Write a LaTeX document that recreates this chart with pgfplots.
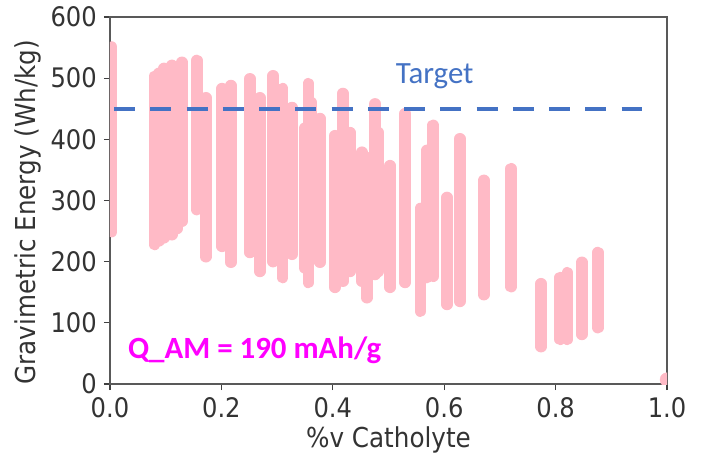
\documentclass[border=0pt]{standalone}
\usepackage{pgfplots}
\pgfplotsset{compat=1.18}
\usepackage{fontspec}
\setmainfont{DejaVu Sans}[FakeStretch=0.9]
\newfontfamily\calfont{Carlito}
\definecolor{barpink}{RGB}{255,186,198}
\definecolor{tblue}{RGB}{68,114,196}
\definecolor{mag}{RGB}{255,0,255}
\pgfplotsset{pinkbar/.style={draw=barpink, line width=11.5bp, line cap=round, forget plot}}
\begin{document}
\begin{tikzpicture}
\path[use as bounding box] (-110bp,-70bp) rectangle (596bp,384bp);
\begin{axis}[
  at={(0,0)}, anchor=south west,
  scale only axis, width=557bp, height=367bp,
  xmin=0, xmax=1, ymin=0, ymax=600,
  clip marker paths=true,
  xtick={0,0.2,0.4,0.6,0.8,1}, xticklabels={0.0,0.2,0.4,0.6,0.8,1.0},
  ytick={0,100,200,300,400,500,600},
  tick align=outside, xtick pos=bottom, ytick pos=left,
  major tick length=6bp,
  every tick/.style={black!75, line width=1.2bp},
  axis line style={black!65, line width=1.2bp},
  tick label style={font=\fontsize{27}{30}\selectfont, text=black!80, inner sep=0pt},
  /pgf/number format/assume math mode=true,
  xticklabel style={yshift=-7bp},
  yticklabel style={xshift=-7bp},
  xlabel={\%v Catholyte},
  ylabel={Gravimetric Energy (Wh/kg)},
  label style={font=\fontsize{27.5}{30}\selectfont, text=black!80},
  xlabel style={at={(axis description cs:0.5,0)}, anchor=base, yshift=-63bp, inner sep=0pt},
  ylabel style={at={(axis description cs:-0.147,0.468)}, anchor=center, inner sep=0pt},
]
\addplot[pinkbar] coordinates {(0.003,249) (0.003,551)};
\addplot[pinkbar] coordinates {(0.080,228) (0.080,503)};
\addplot[pinkbar] coordinates {(0.088,234) (0.088,508)};
\addplot[pinkbar] coordinates {(0.097,239) (0.097,516)};
\addplot[pinkbar] coordinates {(0.111,244) (0.111,521)};
\addplot[pinkbar] coordinates {(0.120,254) (0.120,519)};
\addplot[pinkbar] coordinates {(0.129,266) (0.129,526)};
\addplot[pinkbar] coordinates {(0.156,285) (0.156,529)};
\addplot[pinkbar] coordinates {(0.172,208) (0.172,468)};
\addplot[pinkbar] coordinates {(0.201,225) (0.201,483)};
\addplot[pinkbar] coordinates {(0.217,199) (0.217,488)};
\addplot[pinkbar] coordinates {(0.251,215) (0.251,499)};
\addplot[pinkbar] coordinates {(0.269,184) (0.269,468)};
\addplot[pinkbar] coordinates {(0.293,200) (0.293,504)};
\addplot[pinkbar] coordinates {(0.310,174) (0.310,483)};
\addplot[pinkbar] coordinates {(0.327,212) (0.327,452)};
\addplot[pinkbar] coordinates {(0.349,190) (0.349,418)};
\addplot[pinkbar] coordinates {(0.356,166) (0.356,491)};
\addplot[pinkbar] coordinates {(0.362,204) (0.362,460)};
\addplot[pinkbar] coordinates {(0.377,199) (0.377,434)};
\addplot[pinkbar] coordinates {(0.404,158) (0.404,406)};
\addplot[pinkbar] coordinates {(0.418,168) (0.418,475)};
\addplot[pinkbar] coordinates {(0.431,184) (0.431,411)};
\addplot[pinkbar] coordinates {(0.452,168) (0.452,379)};
\addplot[pinkbar] coordinates {(0.461,141) (0.461,370)};
\addplot[pinkbar] coordinates {(0.476,179) (0.476,458)};
\addplot[pinkbar] coordinates {(0.482,184) (0.482,411)};
\addplot[pinkbar] coordinates {(0.503,158) (0.503,357)};
\addplot[pinkbar] coordinates {(0.530,166) (0.530,442)};
\addplot[pinkbar] coordinates {(0.557,119) (0.557,287)};
\addplot[pinkbar] coordinates {(0.569,174) (0.569,382)};
\addplot[pinkbar] coordinates {(0.580,176) (0.580,423)};
\addplot[pinkbar] coordinates {(0.605,130) (0.605,305)};
\addplot[pinkbar] coordinates {(0.628,135) (0.628,401)};
\addplot[pinkbar] coordinates {(0.671,146) (0.671,333)};
\addplot[pinkbar] coordinates {(0.720,159) (0.720,352)};
\addplot[pinkbar] coordinates {(0.774,61) (0.774,164)};
\addplot[pinkbar] coordinates {(0.808,73) (0.808,174)};
\addplot[pinkbar] coordinates {(0.821,73) (0.821,182)};
\addplot[pinkbar] coordinates {(0.847,81) (0.847,199)};
\addplot[pinkbar] coordinates {(0.876,92) (0.876,215)};
\addplot[only marks, mark=*, mark size=7bp, color=barpink, forget plot] coordinates {(1.0,7)};
\addplot[tblue, line width=4.5bp, dash pattern=on 21bp off 15.25bp, forget plot] coordinates {(0.0072,450) (0.955,450)};
\node[tblue, font=\calfont\fontsize{31}{34}\selectfont, anchor=base, inner sep=0pt] at (axis cs:0.583,492) {Target};
\node[mag, font=\calfont\fontsize{31}{34}\bfseries\selectfont, anchor=base west, inner sep=0pt] at (axis cs:0.032,42) {Q\_AM = 190 mAh/g};
\end{axis}
\end{tikzpicture}
\end{document}
